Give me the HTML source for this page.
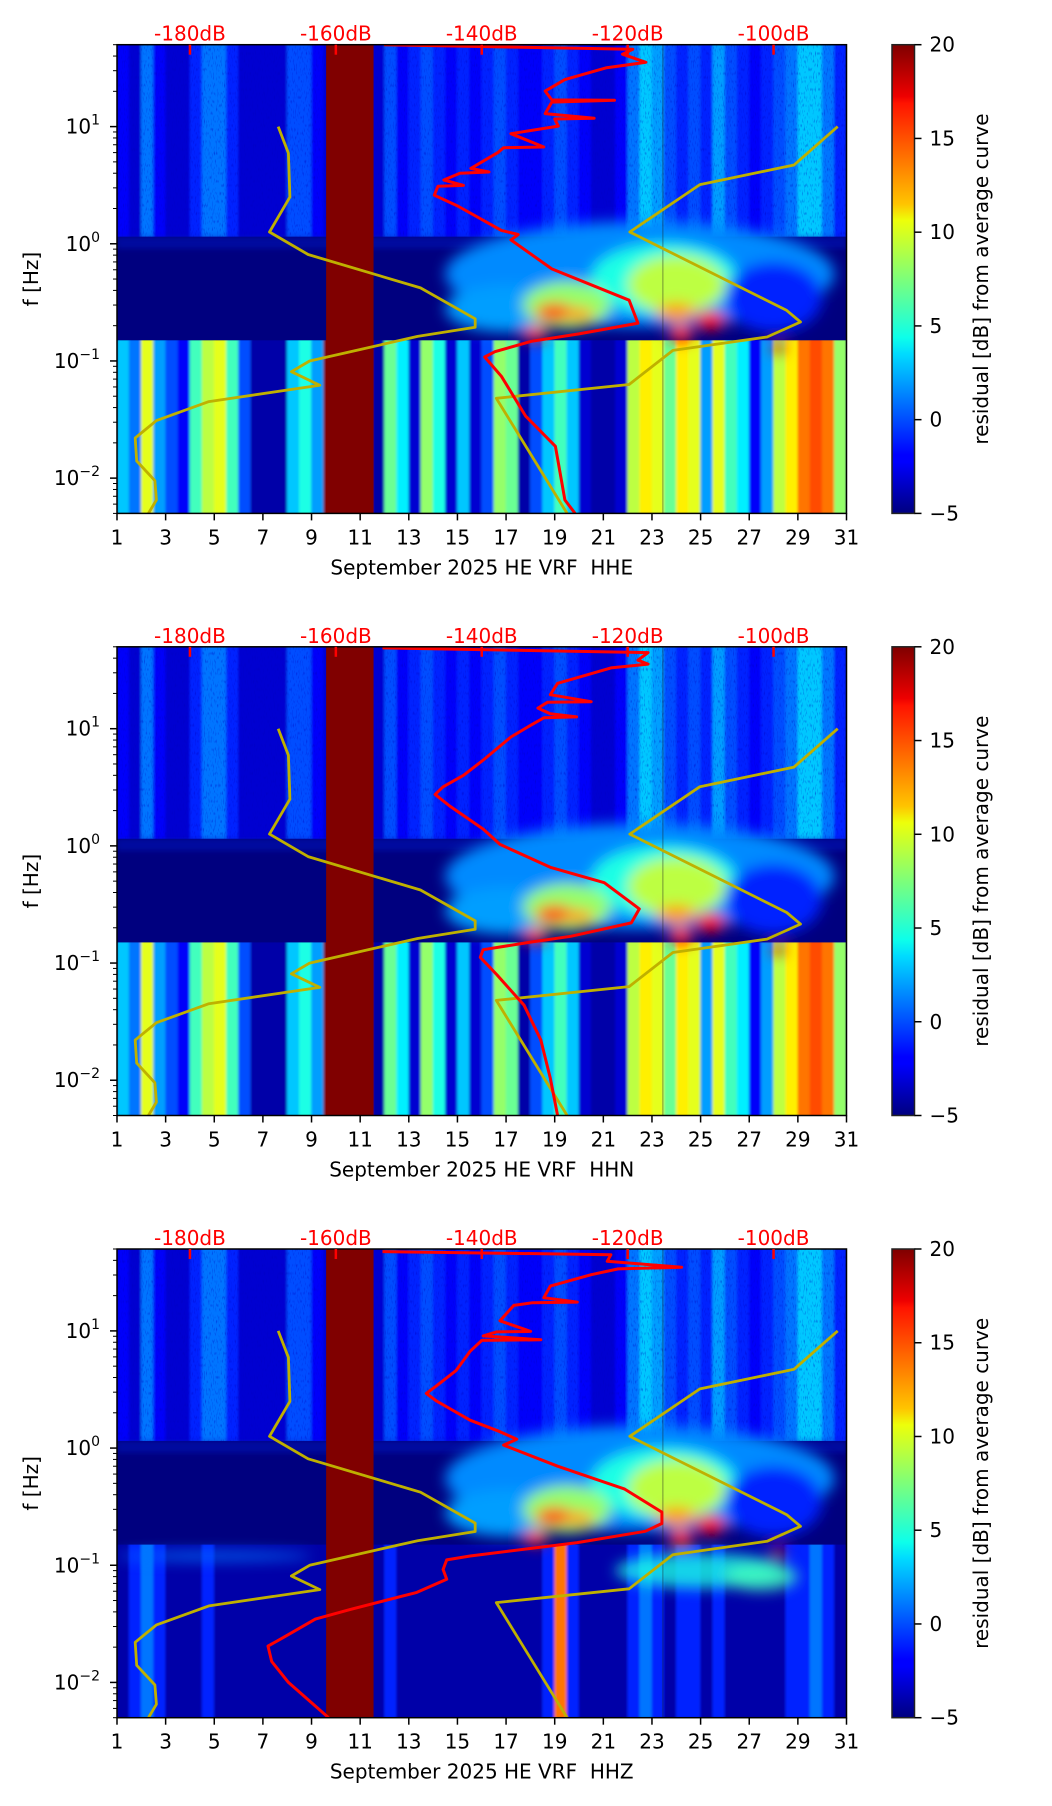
<!DOCTYPE html>
<html><head><meta charset="utf-8"><style>
body{margin:0;background:#fff}
svg{display:block}
text{font-family:"DejaVu Sans","Liberation Sans",sans-serif;white-space:pre}
</style></head><body>
<svg id="fig" xmlns="http://www.w3.org/2000/svg" width="1052" height="1806" viewBox="0 0 1052 1806">
<defs>
<filter id="blur" x="-50%" y="-50%" width="200%" height="200%"><feGaussianBlur stdDeviation="7"/></filter>
<filter id="blurS" x="-50%" y="-50%" width="200%" height="200%"><feGaussianBlur stdDeviation="3"/></filter>
<filter id="hblur" x="-5%" y="-5%" width="110%" height="110%"><feGaussianBlur stdDeviation="1.2 0"/></filter>
<filter id="speck" x="0" y="0" width="100%" height="100%">
<feTurbulence type="fractalNoise" baseFrequency="0.9 0.25" numOctaves="1" seed="3"/>
<feColorMatrix type="matrix" values="0 0 0 0 0  0 0 0 0 0  0 0 0 0 0.5  0 0 0 2.2 -1.2"/>
</filter>
<linearGradient id="jet" x1="0" y1="1" x2="0" y2="0">
<stop offset="0" stop-color="#00007f"/><stop offset="0.11" stop-color="#0000ff"/><stop offset="0.125" stop-color="#0000ff"/>
<stop offset="0.34" stop-color="#00dbff"/><stop offset="0.375" stop-color="#0dffea"/><stop offset="0.5" stop-color="#7dff7a"/>
<stop offset="0.625" stop-color="#edff0a"/><stop offset="0.66" stop-color="#ffc400"/><stop offset="0.875" stop-color="#ff1300"/><stop offset="0.89" stop-color="#ee0000"/><stop offset="1" stop-color="#7f0000"/>
</linearGradient>
</defs>
</svg>
<script>
// ---- data ----
const days = [1,3,5,7,9,11,13,15,17,19,21,23,25,27,29,31];
const dbTicks = [-180,-160,-140,-120,-100];
const cbTicks = [20,15,10,5,0,-5];
const channels = ["HHE","HHN","HHZ"];
// residual per half-day, low band (f<0.15 Hz)
const lowEN = [3,1,10,2,0,-2,6,9,10,6,0,-4,-4,-4,3,5,2,20,20,20,20,-4,7,4,-3,8,5,-3,3,-3,0,8,7,-4,0,3,6,3,-3,-4,-4,-3,9,11,10,7,11,10,2,10,6,4,-2,2,9,11,14,15,14,8];
const lowZ = [-4,-1,1,-1,-4,-4,-4,-1,-4,-4,-4,-4,-4,-4,-4,-4,-4,-4,-4,-4,-4,-4,-1,-4,-4,-4,-4,-4,-4,-4,-4,-4,-4,-4,-4,-1,14,-1,-4,-4,-4,-4,-1,1,-1,-4,-1,-1,-4,-1,-4,-4,-4,-4,-4,-1,-1,1,-1,-4];
// residual per half-day, high band (f>1.15 Hz)
const highAll = [-2,-3,1,-2,-3,-3,-1,1,1,-1,-3,-3,-3,-3,0,0,-2,-3,-3,-3,-3,-3,0,-2,-1,0,-1,-2,-1,-2,-1,0,-1,-2,-2,-1,0,-1,-2,-3,-3,-2,1,3,2,0,-1,0,-1,2,0,-1,-2,-1,0,1,3,3,1,-1];
// microseism blobs: day, freq, residual, half-width (days), half-height (decades)
const blobDay = [22.5,23.5,17,28,24,19.5,19,20,18.2,24.2,25.4,24,28.2];
const blobF   = [0.55,0.5,0.28,0.35,0.45,0.3,0.26,0.25,0.17,0.17,0.22,0.26,0.13];
const blobVal = [1.5,5,2,-1,9,8,15,13,16,16,17,13,18];
const blobW   = [8,3,2.5,2,2,1.8,0.8,0.6,0.5,0.5,0.6,0.8,0.3];
const blobH   = [0.45,0.3,0.2,0.3,0.25,0.2,0.08,0.06,0.06,0.07,0.08,0.08,0.04];
// Z extra: mid-low clouds
const zDay = [25,5,27.5];
const zF   = [0.09,0.12,0.08];
const zVal = [5,1,6];
const zW   = [3.5,4,1.5];
const zH   = [0.15,0.04,0.12];
// noise models (dB, Hz)
const nlnmDB = [-167.9,-166.5,-166.3,-169.1,-163.8,-148.4,-140.9,-140.9,-148.8,-163.6,-166.1,-162.2,-177.4,-184.6,-187.5,-187.3,-184.8,-184.6,-185.7];
const nlnmF  = [10,5.94,2.5,1.26,0.81,0.42,0.229,0.194,0.162,0.1,0.081,0.062,0.045,0.031,0.022,0.014,0.0095,0.0065,0.005];
const nhnmDB = [-91.2,-97.2,-110.1,-119.7,-98.2,-96.3,-100.9,-113.8,-119.8,-138,-128.3];
const nhnmF  = [10,4.7,3.2,1.26,0.27,0.215,0.16,0.123,0.063,0.048,0.005];
// average PSD curves
const redE_DB = [-153.4,-119.3,-120.7,-117.5,-123,-128.6,-131.3,-130.4,-121.8,-130.4,-131.3,-124.6,-130,-129.5,-136,-131.5,-137,-137.8,-141.5,-139,-143,-145.2,-142.5,-146,-146.5,-143.3,-137.3,-135,-136,-130.4,-119.8,-118.6,-126.7,-133.2,-138.2,-139.6,-137.3,-134,-129.9,-128.6,-127.2];
const redE_F  = [50,45.7,41.5,35.4,31.7,25.2,20.1,16.9,16.8,16.2,12.9,11.8,11.6,10.1,8.7,6.7,6.6,6.0,4.4,4.1,4.0,3.5,3.15,3.1,2.6,2.1,1.3,1.2,1.08,0.61,0.33,0.21,0.17,0.147,0.12,0.108,0.074,0.034,0.0187,0.0065,0.005];
const redN_DB = [-153.6,-117.2,-118.6,-117.2,-122.3,-125.9,-129.6,-130.6,-125,-131,-132.3,-130.6,-127,-131.5,-133.3,-136,-139.8,-142.5,-145.3,-146.4,-144.4,-139.8,-137.5,-130.6,-123.2,-118.4,-119.5,-127.8,-133.3,-139.8,-140.2,-137.9,-134.2,-131.9,-130.6,-129.6];
const redN_F  = [48.9,44.6,38.4,35.6,33,28.4,24.4,19.5,17,16.8,15,13.4,12.6,12.4,10.7,8.5,5.4,4,3.19,2.75,2.19,1.39,1.03,0.656,0.485,0.29,0.22,0.169,0.151,0.13,0.112,0.079,0.0436,0.0221,0.0104,0.005];
const redZ_DB = [-153.6,-122.3,-122.8,-112.6,-121.3,-125,-130.6,-131.5,-126.9,-133,-135.6,-137.5,-133.3,-138,-139.8,-131.9,-140,-141.6,-143.5,-146.2,-147.6,-146.2,-141.6,-137.5,-135.2,-137,-129.6,-120.4,-115.3,-115.3,-117.6,-126.9,-141.6,-144.8,-145.3,-144.8,-148.9,-158.2,-162.8,-167.4,-169.3,-168.8,-166.5,-161];
const redZ_F  = [47.5,44.7,39.3,35,33.8,30.2,24.1,19.2,17.6,17.4,16.5,12.2,9.9,9.8,9.06,8.4,8.3,6.7,4.6,3.4,2.93,2.52,1.73,1.38,1.19,1.06,0.70,0.447,0.284,0.227,0.195,0.156,0.12,0.111,0.092,0.076,0.0586,0.0417,0.0347,0.0238,0.0204,0.0151,0.01,0.005];

// ---- geometry ----
const NS="http://www.w3.org/2000/svg";
const svg=document.getElementById('fig');
const L=117, R=846.5, W=R-L, H=468.7;
const tops=[44.7,646.8,1249];
const fMax=50, fMin=0.005;
const xDay=d=>L+(d-1)/30*W;
const xDB=db=>L+(db+190)/100*W;
const yF=(f,t)=>t+(Math.log10(fMax)-Math.log10(f))/Math.log10(fMax/fMin)*H;
function jet(v){const t=Math.max(0,Math.min(1,(v+5)/25));
 const c=x=>Math.round(255*Math.max(0,Math.min(1,x)));
 return `rgb(${c(1.5-Math.abs(4*t-3))},${c(1.5-Math.abs(4*t-2))},${c(1.5-Math.abs(4*t-1))})`;}
function el(tag,attrs,parent){const e=document.createElementNS(NS,tag);for(const k in attrs)e.setAttribute(k,attrs[k]);(parent||svg).appendChild(e);return e;}
function txt(s,attrs,parent){const e=el('text',attrs,parent);e.textContent=s;return e;}

channels.forEach((ch,p)=>{
 const T=tops[p], B=T+H;
 const g=el('g',{});
 
 
 const cid='clip'+p;
 const cp=el('clipPath',{id:cid},g); el('rect',{x:L,y:T,width:W,height:H},cp);
 const plot=el('g',{'clip-path':`url(#${cid})`},g);
 
 
 el('rect',{x:L,y:T,width:W,height:H,fill:'#00007f'},plot);
 const low=(p===2)?lowZ:lowEN;
 const yLow=yF(0.15,T), yHigh=yF(1.15,T);
 const lowG=el('g',{filter:'url(#hblur)'},plot);
 low.forEach((v,i)=>{const d=1+i*0.5;
  const r=el('rect',{x:xDay(d)-0.3,y:yLow,width:W/60+0.6,height:B-yLow+2,fill:jet(v)},lowG);
  
  });
 const hiG=el('g',{filter:'url(#hblur)'},plot);
 highAll.forEach((v,i)=>{const d=1+i*0.5;
  const r=el('rect',{x:xDay(d)-0.3,y:T-2,width:W/60+0.6,height:yHigh-T+2,fill:jet(v)},hiG);
  
  });
 el('rect',{x:L,y:T,width:W,height:yHigh-T,filter:'url(#speck)',opacity:0.7},plot);
 el('rect',{x:L,y:yHigh,width:W,height:12,fill:'#0018c0',opacity:0.5,filter:'url(#blurS)'},plot);
 const bg=el('g',{filter:'url(#blur)'},plot);
 blobDay.forEach((d,i)=>{const cy=yF(blobF[i],T);const ry=blobH[i]/4*H;
  const e=el('ellipse',{cx:xDay(d),cy:cy,rx:blobW[i]/30*W,ry:ry,fill:jet(blobVal[i])},bg);
  
  });
 if(p===2){zDay.forEach((d,i)=>{
  const e=el('ellipse',{cx:xDay(d),cy:yF(zF[i],T),rx:zW[i]/30*W,ry:zH[i]/4*H,fill:jet(zVal[i]),opacity:0.8},bg);
  
  });}
 const gap=el('rect',{x:xDay(9.6),y:T,width:xDay(11.55)-xDay(9.6),height:H,fill:'#800000'},plot);
 
 
 el('line',{x1:xDay(23.45),x2:xDay(23.45),y1:T,y2:B,stroke:'#202020','stroke-width':0.8,opacity:0.6},plot);
 const poly=(dbs,fs,color,w,name)=>{const pts=dbs.map((db,i)=>xDB(db).toFixed(1)+','+yF(fs[i],T).toFixed(1)).join(' ');
  const pl=el('polyline',{points:pts,fill:'none',stroke:color,'stroke-width':w,'stroke-linejoin':'round'},plot);
  
  };
 poly(nlnmDB,nlnmF,'#bfb000',2.8,'nlnm-curve');
 poly(nhnmDB,nhnmF,'#bfb000',2.8,'nhnm-curve');
 const rd=[redE_DB,redN_DB,redZ_DB][p], rf=[redE_F,redN_F,redZ_F][p];
 poly(rd,rf,'#ff0000',3,'average-psd-curve');
 el('rect',{x:L,y:T,width:W,height:H,fill:'none',stroke:'#000','stroke-width':1.5},g);
 days.forEach(d=>{const x=xDay(d);
  el('line',{x1:x,x2:x,y1:B,y2:B+7,stroke:'#000','stroke-width':1.5},g);
  const t=txt(String(d),{x:x,y:B+31,'font-size':20,'text-anchor':'middle'},g);
  
  });
 const xl=txt('September 2025 HE VRF  '+ch,{x:(L+R)/2,y:B+61,'font-size':20,'text-anchor':'middle'},g);
 
 
 for(let e=-3;e<=1;e++){for(let m=1;m<10;m++){const f=m*Math.pow(10,e);if(f<fMin||f>fMax)continue;const y=yF(f,T);
  el('line',{x1:L-(m===1?7:4),x2:L,y1:y,y2:y,stroke:'#000','stroke-width':m===1?1.5:1},g);
  if(m===1){const t=el('text',{x:L-17,y:y+7,'font-size':20,'text-anchor':'end'},g);
   
   
   const a=el('tspan',{},t);a.textContent='10';
   const b=el('tspan',{dy:-9,'font-size':14},t);b.textContent=(e<0?'\u2212':'')+Math.abs(e);}}}
 const yl=txt('f [Hz]',{x:0,y:0,'font-size':20,'text-anchor':'middle',transform:`translate(38,${T+H/2}) rotate(-90)`},g);
 
 
 dbTicks.forEach(db=>{const x=xDB(db);
  el('line',{x1:x,x2:x,y1:T,y2:T+10,stroke:'#ff0000','stroke-width':2.5},g);
  const t=txt(db+'dB',{x:x,y:T-4,'font-size':20,fill:'#ff0000','text-anchor':'middle'},g);
  
  });
 const cbx=892, cbw=22.5;
 const cb=el('rect',{x:cbx,y:T,width:cbw,height:H,fill:'url(#jet)',stroke:'#222','stroke-width':1.5},g);
 
 
 cbTicks.forEach(v=>{const y=T+(20-v)/25*H;
  el('line',{x1:cbx+cbw,x2:cbx+cbw+7,y1:y,y2:y,stroke:'#000','stroke-width':1.5},g);
  const t=txt((v<0?'\u2212':'')+Math.abs(v),{x:cbx+cbw+15,y:y+7,'font-size':20},g);
  
  });
 const cl=txt('residual [dB] from average curve',{x:0,y:0,'font-size':20,'text-anchor':'middle',transform:`translate(988,${T+H/2}) rotate(-90)`},g);
 
 
});
</script>
</body></html>
